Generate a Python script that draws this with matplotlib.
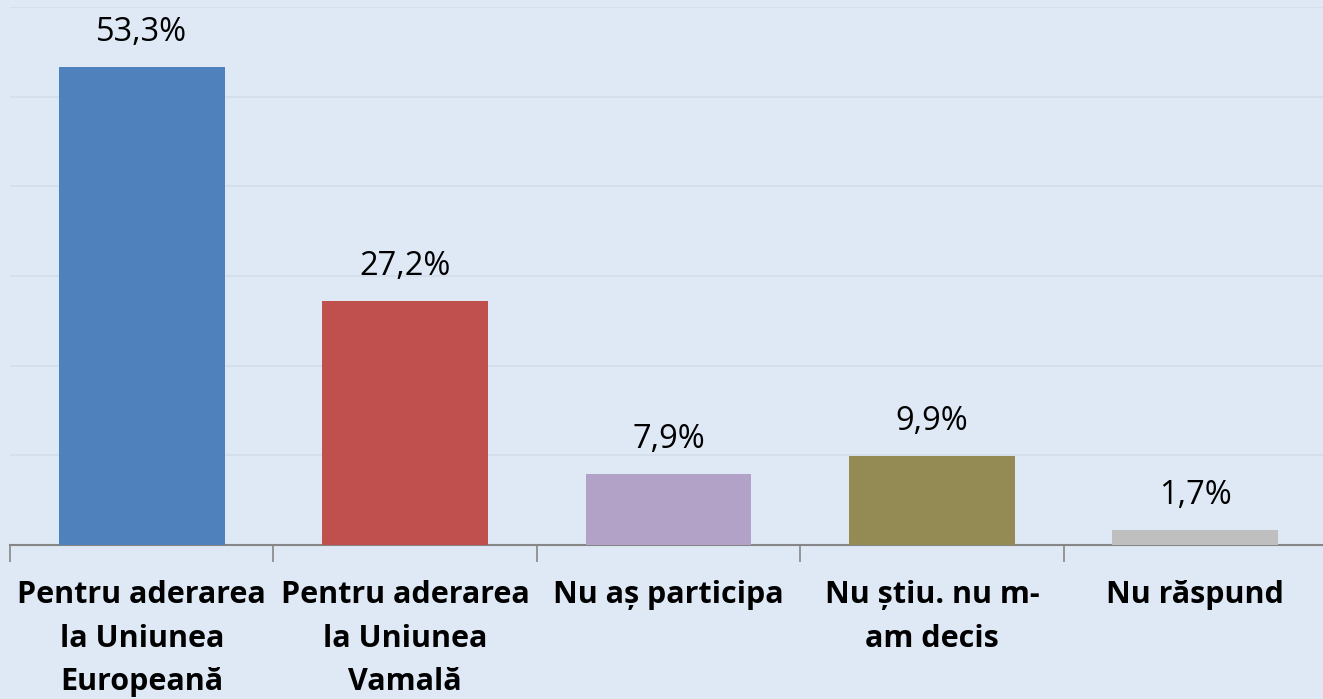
import matplotlib
matplotlib.use("Agg")
import matplotlib.pyplot as plt

categories = ["Pentru aderarea\nla Uniunea\nEuropeană",
              "Pentru aderarea\nla Uniunea\nVamală",
              "Nu aș participa",
              "Nu știu. nu m-\nam decis",
              "Nu răspund"]
values = [53.3, 27.2, 7.9, 9.9, 1.7]
labels = ["53,3%", "27,2%", "7,9%", "9,9%", "1,7%"]
colors = ["#4F81BD", "#C0504D", "#B2A2C7", "#948A54", "#BFBFBF"]

bg = "#DEE9F5"
plt.rcParams['font.family'] = ['Open Sans', 'DejaVu Sans']

fig = plt.figure(figsize=(13.23, 6.99), dpi=100, facecolor=bg)
W, H = 1323, 699
ax = fig.add_axes([10 / W, (H - 545) / H, 1317 / W, (545 - 7) / H])
ax.set_facecolor(bg)

x = range(len(values))
ax.bar(x, values, width=0.63, color=colors, zorder=3)
for xi, v, lab in zip(x, values, labels):
    ax.text(xi, v + 2.0, lab, ha='center', va='bottom', fontsize=23.5, color='black')

ax.set_xlim(-0.5, len(values) - 0.5)
ax.set_ylim(0, 60)
ax.set_yticks(range(0, 61, 10))
ax.yaxis.grid(True, color="#D3DEEA", linewidth=1.2, zorder=0)
ax.tick_params(axis='y', left=False, labelleft=False)

ax.set_xticks([i - 0.5 for i in range(len(values) + 1)], minor=True)
ax.set_xticks(list(x))
ax.set_xticklabels(categories, fontsize=22, fontweight='bold', linespacing=1.6, va='top')
ax.tick_params(axis='x', which='major', length=0, pad=25)
ax.tick_params(axis='x', which='minor', length=12, width=1.2, color="#868686")

for s in ['top', 'right', 'left']:
    ax.spines[s].set_visible(False)
ax.spines['bottom'].set_color("#868686")
ax.spines['bottom'].set_linewidth(1.5)

fig.savefig("out.png", dpi=100, facecolor=bg)
